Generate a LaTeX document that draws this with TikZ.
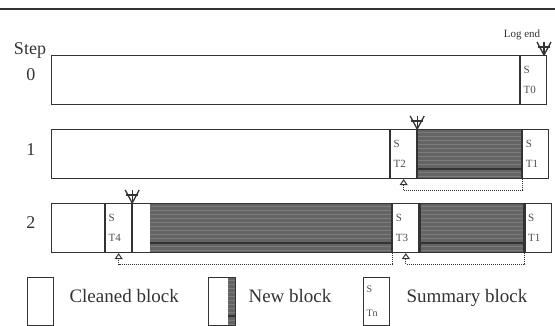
\documentclass[tikz,border=0pt]{standalone}
\usepackage{fontspec}
\setmainfont{Liberation Serif}
\usetikzlibrary{positioning,arrows.meta}

\definecolor{linegray}{HTML}{333333}
\definecolor{newgray}{HTML}{646464}
\definecolor{hatchline}{HTML}{7C7C7C}

\tikzset{
  blk/.style={draw=linegray, line width=1.1pt, rectangle, inner sep=0pt,
    minimum height=49pt, anchor=north west},
  cleanblk/.style={blk},
  newblk/.style={blk, path picture={
      \path (path picture bounding box.north west) coordinate (hnw)
            (path picture bounding box.south east) coordinate (hse);
      \fill[newgray] ([xshift=#1]hnw) rectangle (hse);
      \foreach \k in {3,7,...,47}
        \draw[hatchline, line width=0.6pt]
          ([xshift=#1, yshift=-\k pt]hnw) -- ([yshift=-\k pt]hnw -| hse);
      \draw[black!80, line width=2pt] ([xshift=#1, yshift=10pt]hnw |- hse) -- ([yshift=10pt]hse);
    }},
  newblk/.default=0pt,
  sumblk/.style={blk, minimum width=26pt, text width=20pt, inner xsep=3pt,
    align=left, text=black!70, font=\fontsize{11}{11}\selectfont},
  steplbl/.style={text=linegray, font=\fontsize{18}{18}\selectfont},
  legtxt/.style={text=linegray, anchor=base west, font=\fontsize{19}{19}\selectfont},
  backptr/.style={densely dotted, line width=1pt, draw=linegray,
    -{Triangle[open, length=6pt, width=8pt]}},
  logend/.pic={
    \draw[linegray, line width=1.3pt] (-7,-13) -- (0,0) -- (7,-13);
    \draw[linegray, line width=1.2pt] (-6,-8) -- (6,-8);
    \draw[linegray, line width=1.2pt] (0,-13) -- (0,0);
  }
}

\begin{document}
\begin{tikzpicture}[x=1pt, y=-1pt]
  \useasboundingbox (0,0) rectangle (555,326);
  % top rule
  \draw[linegray, line width=1.5pt] (0,9) -- (555,9);

  % labels
  \node[steplbl, anchor=base] (step) at (30,55) {Step};
  \node[steplbl] (d0) at (31,75) {0};
  \node[steplbl] (d1) at (31,150) {1};
  \node[steplbl] (d2) at (31,223) {2};

  % Step 0
  \node[cleanblk, minimum width=468pt] (c0) at (51,55) {};
  \node[sumblk, right=0pt of c0] (s0) {S\\[9pt]T0};
  \node[text=linegray, font=\fontsize{11}{11}\selectfont] (le) at (522,35) {Log end};
  \pic at (544,55) {logend};

  % Step 1
  \node[cleanblk, minimum width=338pt] (c1) at (51,129) {};
  \node[sumblk, right=0pt of c1] (s2) {S\\[9pt]T2};
  \node[newblk, minimum width=104pt, right=0pt of s2] (n1) {};
  \node[sumblk, right=0pt of n1] (s1) {S\\[9pt]T1};
  \pic at (s2.north east) {logend};
  \draw[backptr] (n1.south east) -- ++(0,11) -| (s2.south);

  % Step 2
  \node[cleanblk, minimum width=53pt] (c2) at (51,203) {};
  \node[sumblk, right=0pt of c2] (s4) {S\\[9pt]T4};
  \node[newblk=17pt, minimum width=259pt, right=0pt of s4] (n2) {};
  \node[sumblk, right=0pt of n2] (s3) {S\\[9pt]T3};
  \node[newblk, minimum width=104pt, right=0pt of s3] (n3) {};
  \node[sumblk, right=0pt of n3] (s1b) {S\\[9pt]T1};
  \pic at (s4.north east) {logend};
  \draw[backptr] (n2.south east) -- ++(0,11) -| (s4.south);
  \draw[backptr] (n3.south east) -- ++(0,11) -| (s3.south);

  % legend
  \node[cleanblk, minimum width=26pt, minimum height=48pt] (lc) at (27,277) {};
  \node[legtxt] (lct) at (66,302) {Cleaned block};
  \node[newblk=19pt, minimum width=27pt, minimum height=48pt] (ln) at (208,277) {};
  \node[legtxt] (lnt) at (245,302) {New block};
  \node[sumblk, minimum height=48pt, font=\fontsize{10}{10}\selectfont] (ls) at (363,277) {S\\[14pt]Tn};
  \node[legtxt] (lst) at (403,302) {Summary block};
\end{tikzpicture}
\end{document}
